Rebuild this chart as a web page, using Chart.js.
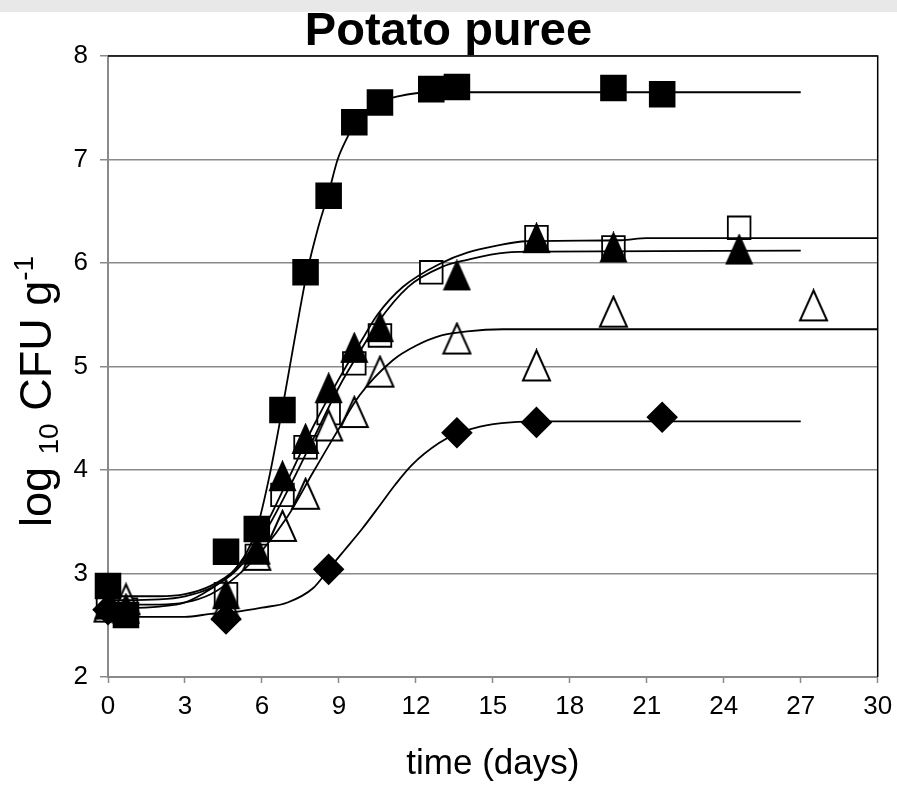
<!DOCTYPE html>
<html lang="en">
<head>
<meta charset="UTF-8">
<title>Potato puree</title>
<script src="https://cdn.jsdelivr.net/npm/chart.js"></script>
<style>
    html, body {
        margin: 0;
        padding: 0;
        background: #fff;
    }
    #chart {
        display: block;
    }
</style>
</head>
<body>
<canvas id="chart" width="897" height="785"></canvas>
<script>
    // observed counts (log10 CFU/g) per sampling day
    const daysFilledSq = [0, 0.7, 4.6, 5.8, 6.8, 7.7, 8.6, 9.6, 10.6, 12.6, 13.6, 19.7, 21.6];
    const logFilledSq  = [2.88, 2.6, 3.21, 3.43, 4.58, 5.91, 6.65, 7.36, 7.55, 7.68, 7.7, 7.69, 7.63];

    const daysOpenSq = [0, 0.7, 4.6, 5.8, 6.8, 7.7, 8.6, 9.6, 10.6, 12.6, 16.7, 19.7, 24.6];
    const logOpenSq  = [2.72, 2.65, 2.8, 3.17, 3.76, 4.22, 4.55, 5.03, 5.3, 5.91, 6.25, 6.15, 6.34];

    const daysFilledTri = [0, 0.7, 4.6, 5.8, 6.8, 7.7, 8.6, 9.6, 10.6, 13.6, 16.7, 19.7, 24.6];
    const logFilledTri  = [2.7, 2.66, 2.8, 3.23, 3.94, 4.3, 4.79, 5.18, 5.38, 5.88, 6.24, 6.15, 6.13];

    const daysOpenTri = [0, 0.7, 4.6, 5.8, 6.8, 7.7, 8.6, 9.6, 10.6, 13.6, 16.7, 19.7, 27.5];
    const logOpenTri  = [2.68, 2.75, 2.7, 3.18, 3.46, 3.77, 4.43, 4.56, 4.95, 5.27, 5.01, 5.53, 5.59];

    const daysDiamond = [0, 4.6, 8.6, 13.6, 16.7, 21.6];
    const logDiamond  = [2.65, 2.56, 3.04, 4.36, 4.46, 4.51];

    // fitted growth curves
    const fitDaysFilledSq = [0, 2, 3, 4, 4.8, 5.4, 5.8, 6.3, 6.8, 7.3, 7.75, 8.2, 8.6, 8.95, 9.3, 9.65, 10.1, 10.6, 11.3, 12, 13, 27];
    const fitLogFilledSq  = [2.66, 2.68, 2.72, 2.85, 3.0, 3.2, 3.43, 3.95, 4.6, 5.3, 5.9, 6.35, 6.68, 7.0, 7.2, 7.36, 7.48, 7.56, 7.61, 7.64, 7.65, 7.65];

    const fitDaysOpenSq = [0, 2, 3, 4, 5, 6, 7, 8, 9, 10, 10.5, 11.5, 13, 14, 15.2, 16.3, 20, 21, 30];
    const fitLogOpenSq  = [2.78, 2.78, 2.8, 2.88, 3.05, 3.4, 3.9, 4.42, 4.88, 5.3, 5.5, 5.77, 6.0, 6.1, 6.17, 6.21, 6.22, 6.24, 6.24];

    const fitDaysFilledTri = [0, 2, 3, 4, 5, 6, 7, 8, 9, 10, 10.5, 11.7, 13, 14, 15.5, 17, 27];
    const fitLogFilledTri  = [2.74, 2.75, 2.78, 2.86, 3.03, 3.35, 3.8, 4.3, 4.8, 5.22, 5.42, 5.77, 5.96, 6.03, 6.1, 6.11, 6.12];

    const fitDaysOpenTri = [0, 2, 3, 4, 5, 6, 7, 8, 9, 9.8, 11.1, 12, 13, 14, 15.4, 30];
    const fitLogOpenTri  = [2.7, 2.7, 2.72, 2.8, 2.97, 3.22, 3.55, 3.98, 4.4, 4.72, 5.06, 5.2, 5.3, 5.34, 5.36, 5.36];

    const fitDaysDiamond = [0, 3, 4, 5, 6, 7, 8, 8.6, 9.2, 9.9, 10.6, 11.2, 11.85, 12.9, 13.6, 14.5, 15.7, 17, 27];
    const fitLogDiamond  = [2.58, 2.58, 2.61, 2.63, 2.67, 2.72, 2.86, 3.04, 3.22, 3.43, 3.66, 3.86, 4.05, 4.26, 4.35, 4.42, 4.46, 4.47, 4.47];

    const xTicks = [0, 3, 6, 9, 12, 15, 18, 21, 24, 27, 30];
    const yTicks = [2, 3, 4, 5, 6, 7, 8];

    const FONT = '"Liberation Sans", Arial, sans-serif';
    const AXIS_GREY = '#8a8a8a';

    const pts = (xs, ys) => xs.map((x, i) => ({ x: x, y: ys[i] }));

    // Excel-style triangles are a bit taller than equilateral, so draw them on a small canvas
    function triangleMarker(w, h, filled) {
        const c = document.createElement('canvas');
        c.width = w + 4;
        c.height = h + 4;
        const g = c.getContext('2d');
        g.beginPath();
        g.moveTo(c.width / 2, 2);
        g.lineTo(c.width - 2, h + 2);
        g.lineTo(2, h + 2);
        g.closePath();
        g.fillStyle = filled ? '#000' : '#fff';
        g.fill();
        g.lineWidth = 2;
        g.strokeStyle = '#000';
        g.stroke();
        return c;
    }

    function markers(xs, ys, style, radius, fill, order) {
        return {
            data: pts(xs, ys),
            showLine: false,
            pointStyle: style,
            pointRadius: radius,
            pointHoverRadius: radius,
            pointBackgroundColor: fill,
            pointBorderColor: '#000',
            pointBorderWidth: 1.8,
            clip: false,
            order: order
        };
    }

    function curve(xs, ys) {
        return {
            data: pts(xs, ys),
            showLine: true,
            borderColor: '#000',
            borderWidth: 1.8,
            pointRadius: 0,
            cubicInterpolationMode: 'monotone',
            clip: false,
            order: 0
        };
    }

    // grey strip across the top and the black frame on the top/right of the plot
    const framePlugin = {
        id: 'frame',
        beforeDraw(chart) {
            const { ctx, width, height } = chart;
            ctx.save();
            ctx.fillStyle = '#fff';
            ctx.fillRect(0, 0, width, height);
            ctx.fillStyle = '#e8e8e8';
            ctx.fillRect(0, 0, width, 12);
            ctx.restore();
        },
        beforeDatasetsDraw(chart) {
            const { ctx, chartArea: a } = chart;
            ctx.save();
            ctx.strokeStyle = '#000';
            ctx.lineWidth = 1.5;
            ctx.beginPath();
            ctx.moveTo(a.left, a.top);
            ctx.lineTo(a.right, a.top);
            ctx.lineTo(a.right, a.bottom);
            ctx.stroke();
            ctx.restore();
        }
    };

    // y axis title with subscript 10 and superscript -1
    const yTitlePlugin = {
        id: 'yTitle',
        afterDraw(chart) {
            const { ctx, chartArea: a } = chart;
            const big = '45px ' + FONT;
            const small = '28px ' + FONT;
            const parts = [
                { t: 'log ', f: big, dy: 0 },
                { t: '10', f: small, dy: 7 },
                { t: ' CFU g', f: big, dy: 0 },
                { t: '-1', f: small, dy: -18 }
            ];
            ctx.save();
            let total = 0;
            parts.forEach(p => {
                ctx.font = p.f;
                p.w = ctx.measureText(p.t).width;
                total += p.w;
            });
            ctx.translate(51, (a.top + a.bottom) / 2 + 25);
            ctx.rotate(-Math.PI / 2);
            ctx.fillStyle = '#000';
            ctx.textBaseline = 'alphabetic';
            let x = -total / 2;
            parts.forEach(p => {
                ctx.font = p.f;
                ctx.fillText(p.t, x, p.dy);
                x += p.w;
            });
            ctx.restore();
        }
    };

    new Chart(document.getElementById('chart'), {
        type: 'scatter',
        data: {
            datasets: [
                curve(fitDaysFilledSq, fitLogFilledSq),
                curve(fitDaysOpenSq, fitLogOpenSq),
                curve(fitDaysFilledTri, fitLogFilledTri),
                curve(fitDaysOpenTri, fitLogOpenTri),
                curve(fitDaysDiamond, fitLogDiamond),
                markers(daysDiamond, logDiamond, 'rectRot', 14.5, '#000', 1),
                markers(daysFilledSq, logFilledSq, 'rect', 17.5, '#000', 2),
                markers(daysFilledTri, logFilledTri, triangleMarker(25, 28, true), 14, '#000', 3),
                markers(daysOpenTri, logOpenTri, triangleMarker(27, 30, false), 15, '#fff', 4),
                markers(daysOpenSq, logOpenSq, 'rect', 16, '#fff', 5)
            ]
        },
        options: {
            responsive: false,
            animation: false,
            events: [],
            layout: { padding: 0 },
            plugins: {
                legend: { display: false },
                tooltip: { enabled: false },
                title: {
                    display: true,
                    text: 'Potato puree',
                    color: '#000',
                    font: { family: FONT, size: 47, weight: 'bold', lineHeight: 1 },
                    padding: { top: 9, bottom: 0 }
                }
            },
            scales: {
                x: {
                    type: 'linear',
                    min: 0,
                    max: 30,
                    afterFit(scale) {
                        scale.height = 108;
                        // the end labels may hang past the plot edges
                        scale.paddingLeft = 0;
                        scale.paddingRight = 0;
                    },
                    afterBuildTicks(scale) { scale.ticks = xTicks.map(v => ({ value: v })); },
                    border: { display: true, color: AXIS_GREY, width: 2 },
                    grid: {
                        drawOnChartArea: false,
                        drawTicks: true,
                        tickLength: 6,
                        tickColor: AXIS_GREY,
                        tickWidth: 1.5
                    },
                    ticks: {
                        color: '#000',
                        padding: 8,
                        maxRotation: 0,
                        font: { family: FONT, size: 26 }
                    },
                    title: {
                        display: true,
                        text: 'time (days)',
                        color: '#000',
                        font: { family: FONT, size: 35 },
                        padding: { top: 0, bottom: 0 }
                    }
                },
                y: {
                    type: 'linear',
                    min: 2,
                    max: 8,
                    afterFit(scale) { scale.width = 108; },
                    afterBuildTicks(scale) { scale.ticks = yTicks.map(v => ({ value: v })); },
                    border: { display: true, color: AXIS_GREY, width: 2 },
                    grid: {
                        color: AXIS_GREY,
                        lineWidth: 1.5,
                        drawTicks: true,
                        tickLength: 8,
                        tickColor: AXIS_GREY
                    },
                    ticks: {
                        color: '#000',
                        padding: 12,
                        font: { family: FONT, size: 26 }
                    }
                },
                // empty strip on the right so the plot stops short of the edge
                yRight: {
                    type: 'linear',
                    position: 'right',
                    display: true,
                    afterFit(scale) { scale.width = 17; },
                    border: { display: false },
                    grid: { display: false },
                    ticks: { display: false }
                }
            }
        },
        plugins: [framePlugin, yTitlePlugin]
    });
</script>
</body>
</html>
